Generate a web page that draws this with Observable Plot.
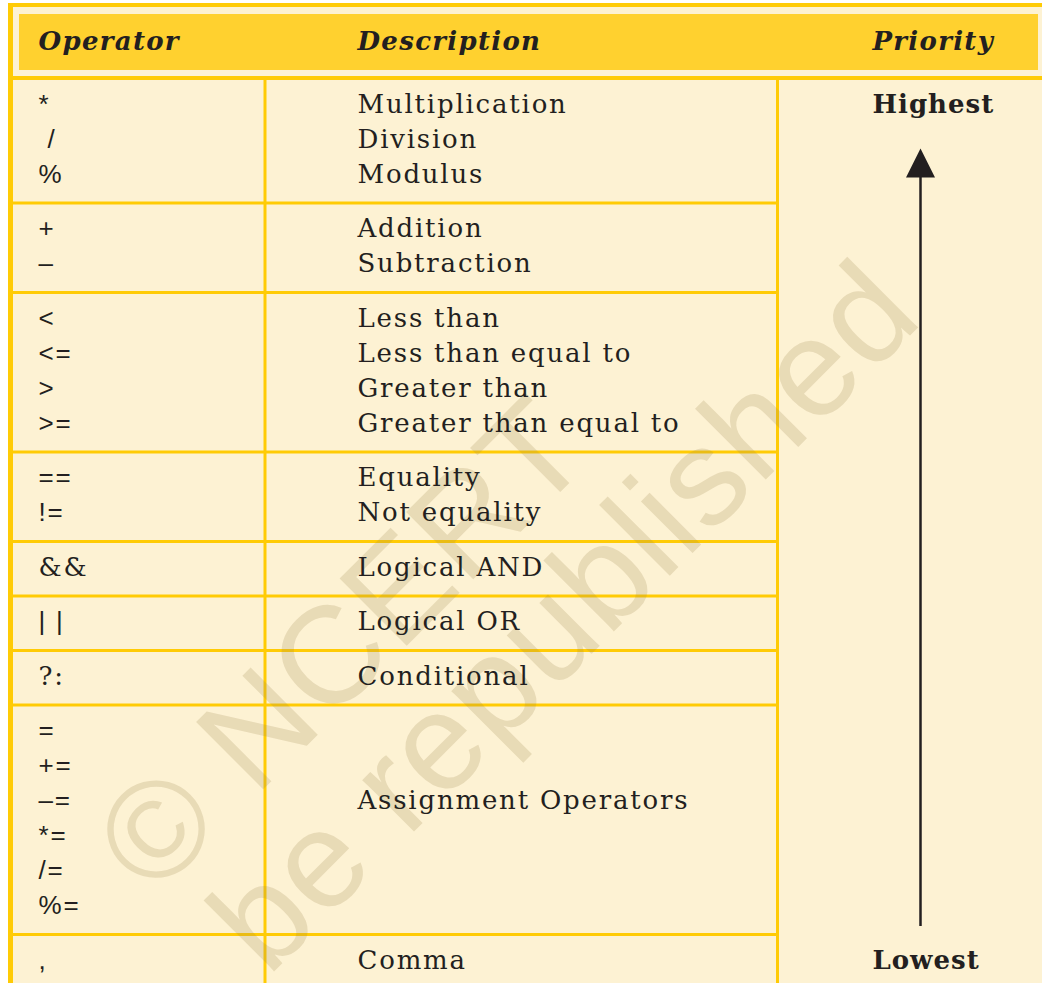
<!DOCTYPE html>
<html>
<head>
<meta charset="utf-8">
<script src="https://cdn.jsdelivr.net/npm/d3@7"></script>
<script src="https://cdn.jsdelivr.net/npm/@observablehq/plot@0.6"></script>
<style>
  html, body { margin: 0; padding: 0; background: #ffffff; }
  g[aria-description="header"] text { letter-spacing: 1.3px; }
  g[aria-description="priority"] text { letter-spacing: 1px; }
  g[aria-description="description"] text, g[aria-description="operator"] text { letter-spacing: 1.8px; }
  g[aria-description="watermark"] text { letter-spacing: 1.8px; }
</style>
</head>
<body>
<div id="chart"></div>
<script>
// ---------- data ----------
const headers = ["Operator", "Description", "Priority"];
const operators = [
  ["*", "\u00a0/", "%"],
  ["+", "\u2013"],
  ["<", "<=", ">", ">="],
  ["==", "!="],
  ["&&"],
  ["|\u00a0|"],
  ["?:"],
  ["=", "+=", "\u2013=", "*=", "/=", "%="],
  [","]
];
const descriptions = [
  ["Multiplication", "Division", "Modulus"],
  ["Addition", "Subtraction"],
  ["Less than", "Less than equal to", "Greater than", "Greater than equal to"],
  ["Equality", "Not equality"],
  ["Logical AND"],
  ["Logical OR"],
  ["Conditional"],
  ["Assignment Operators"],
  ["Comma"]
];
const priorityLabels = ["Highest", "Lowest"];
const watermarkLines = ["\u00a9 NCERT", "be republished"];

// ---------- layout ----------
const W = 1042, H = 983;
const L = {
  outerTop: 3, outerTopW: 4, outerLeft: 8, outerLeftW: 5,
  headY1: 14, headY2: 70, headX1: 19, headX2: 1038, headLineY: 78, headLineW: 4,
  col1: 264.5, col2: 777, colW: 3, rowW: 3,
  opX: 38, descX: 357, prioX: 872, headTextY: 41,
  lineH: 35, rowPad: 19.5, firstLine: 26,
  arrowX: 920, arrowR: 14.5
};
const cream = "#fdf2d3", yellow = "#ffcb05", headFill = "#ffd12f", ink = "#231f20";
const serif = "DejaVu Serif", sans = "Liberation Sans";

// rows
const rows = [];
let cursorY = L.headLineY;
operators.forEach((ops, i) => {
  const n = Math.max(ops.length, descriptions[i].length);
  rows.push({rowTop: cursorY, n, ops, desc: descriptions[i]});
  cursorY += n * L.lineH + L.rowPad;
});
const opTexts = [], descTexts = [];
rows.forEach(r => {
  r.ops.forEach((t, j) => opTexts.push({x: L.opX, y: r.rowTop + L.firstLine + j * L.lineH, text: t}));
  const off = Math.floor((r.n - r.desc.length) / 2);
  r.desc.forEach((t, j) => descTexts.push({x: L.descX, y: r.rowTop + L.firstLine + (j + off) * L.lineH, text: t}));
});
const isSerifOp = d => /[&?]/.test(d.text);
const rowLines = rows.slice(1).map(r => ({y: r.rowTop}));

const boxes = [
  {x1: L.outerLeft, x2: W, y1: L.outerTop, y2: H, fill: cream},
  {x1: L.outerLeft, x2: W, y1: L.outerTop, y2: L.outerTop + L.outerTopW, fill: yellow},
  {x1: L.outerLeft, x2: L.outerLeft + L.outerLeftW, y1: L.outerTop, y2: H, fill: yellow},
  {x1: L.headX1, x2: L.headX2, y1: L.headY1, y2: L.headY2, fill: headFill},
  {x1: L.outerLeft, x2: W, y1: L.headLineY - L.headLineW / 2, y2: L.headLineY + L.headLineW / 2, fill: yellow}
];
const headerTexts = headers.map((t, i) => ({x: [L.opX, L.descX, L.prioX][i], y: L.headTextY, text: t}));
const firstY = rows[0].rowTop + L.firstLine;
const lastY = rows[rows.length - 1].rowTop + L.firstLine;
const prioTexts = [{x: L.prioX, y: firstY, text: priorityLabels[0]}, {x: L.prioX, y: lastY, text: priorityLabels[1]}];
const headY = firstY + 44 + L.arrowR;
const arrowShaft = [{x: L.arrowX, y1: headY + L.arrowR - 1, y2: rows[rows.length - 1].rowTop - 8}];
const arrowHead = [{x: L.arrowX, y: headY}];
const triangle = {
  draw(ctx, size) {
    const r = Math.sqrt(size / Math.PI);
    ctx.moveTo(0, -r); ctx.lineTo(r, r); ctx.lineTo(-r, r); ctx.closePath();
  }
};
const wm = [
  {x: 122, y: 867, text: watermarkLines[0]},
  {x: 236, y: 946, text: watermarkLines[1]}
];

const textOpts = {x: "x", y: "y", text: "text", textAnchor: "start", lineAnchor: "middle", fill: ink};
const chart = Plot.plot({
  width: W, height: H, margin: 0,
  x: {domain: [0, W], range: [0, W], axis: null},
  y: {domain: [0, H], range: [0, H], axis: null},
  style: "background:white;overflow:hidden;",
  marks: [
    Plot.rect(boxes, {x1: "x1", x2: "x2", y1: "y1", y2: "y2", fill: d => d.fill}),
    Plot.ruleX([L.col1, L.col2], {x: d => d, y1: L.headLineY + L.headLineW / 2, y2: H, stroke: yellow, strokeWidth: L.colW}),
    Plot.ruleY(rowLines, {y: "y", x1: L.outerLeft + L.outerLeftW, x2: L.col2, stroke: yellow, strokeWidth: L.rowW}),
    Plot.text(wm, {...textOpts, rotate: -45, ariaDescription: "watermark",
      fontFamily: sans, fontSize: 138, fill: "#a08850", fillOpacity: 0.22}),
    Plot.text(headerTexts, {...textOpts, ariaDescription: "header",
      fontFamily: serif, fontSize: 26, fontWeight: "bold", fontStyle: "italic"}),
    Plot.text(opTexts.filter(d => !isSerifOp(d)), {...textOpts, ariaDescription: "operator", fontFamily: sans, fontSize: 26}),
    Plot.text(opTexts.filter(isSerifOp), {...textOpts, ariaDescription: "operator", fontFamily: serif, fontSize: 26}),
    Plot.text(descTexts, {...textOpts, ariaDescription: "description", fontFamily: serif, fontSize: 26}),
    Plot.text(prioTexts, {...textOpts, ariaDescription: "priority", fontFamily: serif, fontSize: 26, fontWeight: "bold"}),
    Plot.ruleX(arrowShaft, {x: "x", y1: "y1", y2: "y2", stroke: ink, strokeWidth: 2.5}),
    Plot.dot(arrowHead, {x: "x", y: "y", r: L.arrowR, symbol: triangle, fill: ink, stroke: "none"})
  ]
});
document.getElementById("chart").appendChild(chart);
</script>
</body>
</html>
